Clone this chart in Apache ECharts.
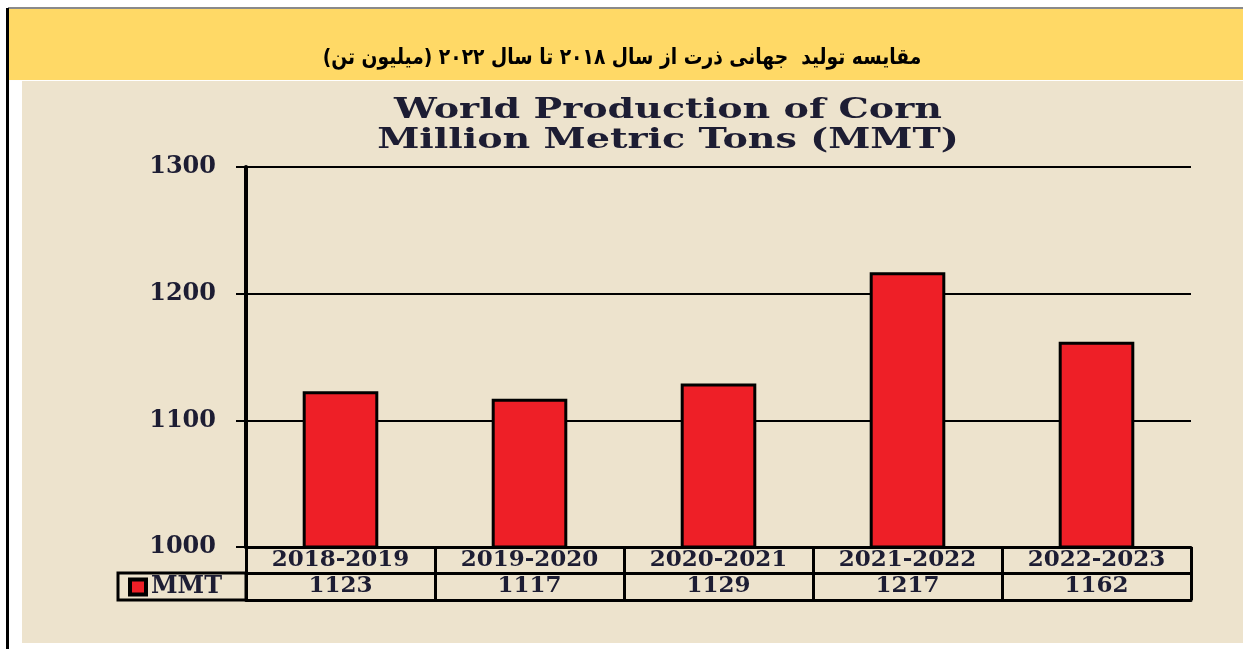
<!DOCTYPE html>
<html>
<head>
<meta charset="utf-8">
<script src="https://cdn.jsdelivr.net/npm/echarts@6/dist/echarts.min.js"></script>
<style>
  html, body { margin: 0; padding: 0; background: #fff; }
  #chart { width: 1243px; height: 649px; }
</style>
</head>
<body>
<div id="chart"></div>
<script>
// data
const seasons = ['2018-2019', '2019-2020', '2020-2021', '2021-2022', '2022-2023'];
const production = [1123, 1117, 1129, 1217, 1162];
const seriesName = 'MMT';

const headerText = 'مقایسه تولید  جهانی ذرت از سال ۲۰۱۸ تا سال ۲۰۲۲ (میلیون تن)';
const titleLines = ['World Production of Corn', 'Million Metric Tons (MMT)'];

const serif = '"DejaVu Serif", serif';
const inkColor = '#1d1d33';

const chart = echarts.init(document.getElementById('chart'));

const option = {
  backgroundColor: '#ffffff',
  animation: false,
  grid: { left: 246, right: 52, top: 167, bottom: 102 },
  legend: {
    data: [seriesName],
    left: 128,
    top: 575,
    padding: 0,
    icon: 'rect',
    itemWidth: 16,
    itemHeight: 15,
    itemGap: 3,
    itemStyle: { color: '#EE1F27', borderColor: '#000', borderWidth: 4 },
    textStyle: { fontFamily: serif, fontWeight: 'bold', fontSize: 24, color: inkColor }
  },
  xAxis: [
    {
      type: 'category',
      data: seasons,
      position: 'bottom',
      axisLine: { lineStyle: { color: '#000', width: 3 } },
      axisTick: { show: true, length: 53, alignWithLabel: false, lineStyle: { color: '#000', width: 3 } },
      axisLabel: { margin: 2, fontFamily: serif, fontWeight: 'bold', fontSize: 23, color: inkColor }
    },
    {
      type: 'category',
      data: production.map(String),
      position: 'bottom',
      offset: 26,
      axisLine: { lineStyle: { color: '#000', width: 3 } },
      axisTick: { show: false },
      axisLabel: { margin: 2, fontFamily: serif, fontWeight: 'bold', fontSize: 23, color: inkColor }
    },
    {
      type: 'category',
      data: seasons,
      position: 'bottom',
      offset: 53,
      axisLine: { lineStyle: { color: '#000', width: 3 } },
      axisTick: { show: false },
      axisLabel: { show: false }
    }
  ],
  yAxis: {
    type: 'value',
    min: 1000,
    max: 1300,
    interval: 100,
    axisLine: { show: true, lineStyle: { color: '#000', width: 4 } },
    axisTick: { show: true, length: 10, lineStyle: { color: '#000', width: 2 } },
    splitLine: { lineStyle: { color: '#000', width: 2 } },
    axisLabel: {
      margin: 30,
      formatter: function (v) { return String(v); },
      fontFamily: serif, fontWeight: 'bold', fontSize: 24, color: inkColor
    }
  },
  series: [{
    name: seriesName,
    type: 'bar',
    data: production,
    barWidth: '40%',
    itemStyle: { color: '#EE1F27', borderColor: '#000', borderWidth: 3 }
  }],
  graphic: [
    { type: 'rect', z: -10, silent: true, shape: { x: 8, y: 7, width: 1235, height: 2 }, style: { fill: '#8a8a8a' } },
    { type: 'rect', z: -10, silent: true, shape: { x: 6, y: 8, width: 3, height: 641 }, style: { fill: '#000' } },
    { type: 'rect', z: -10, silent: true, shape: { x: 9, y: 9, width: 1234, height: 71 }, style: { fill: '#FFD966' } },
    { type: 'rect', z: -10, silent: true, shape: { x: 22, y: 81, width: 1221, height: 562 }, style: { fill: '#EDE3CD' } },
    {
      type: 'text', x: 622, y: 58, scaleX: 0.85, silent: true,
      style: {
        text: '\u200F' + headerText + '\u200F',
        font: 'bold 22px "DejaVu Sans", sans-serif', fill: '#000',
        align: 'center', verticalAlign: 'middle'
      }
    },
    {
      type: 'text', x: 668, y: 111, scaleX: 1.36, silent: true,
      style: { text: titleLines[0], font: 'bold 28px ' + serif, fill: inkColor, align: 'center', verticalAlign: 'middle' }
    },
    {
      type: 'text', x: 668, y: 141, scaleX: 1.36, silent: true,
      style: { text: titleLines[1], font: 'bold 28px ' + serif, fill: inkColor, align: 'center', verticalAlign: 'middle' }
    },
    {
      type: 'rect', z: 10, silent: true,
      shape: { x: 118, y: 573, width: 128, height: 27 },
      style: { fill: 'none', stroke: '#000', lineWidth: 3 }
    }
  ]
};

chart.setOption(option);

window.addEventListener('resize', function () {
  chart.resize();
});
</script>
</body>
</html>
